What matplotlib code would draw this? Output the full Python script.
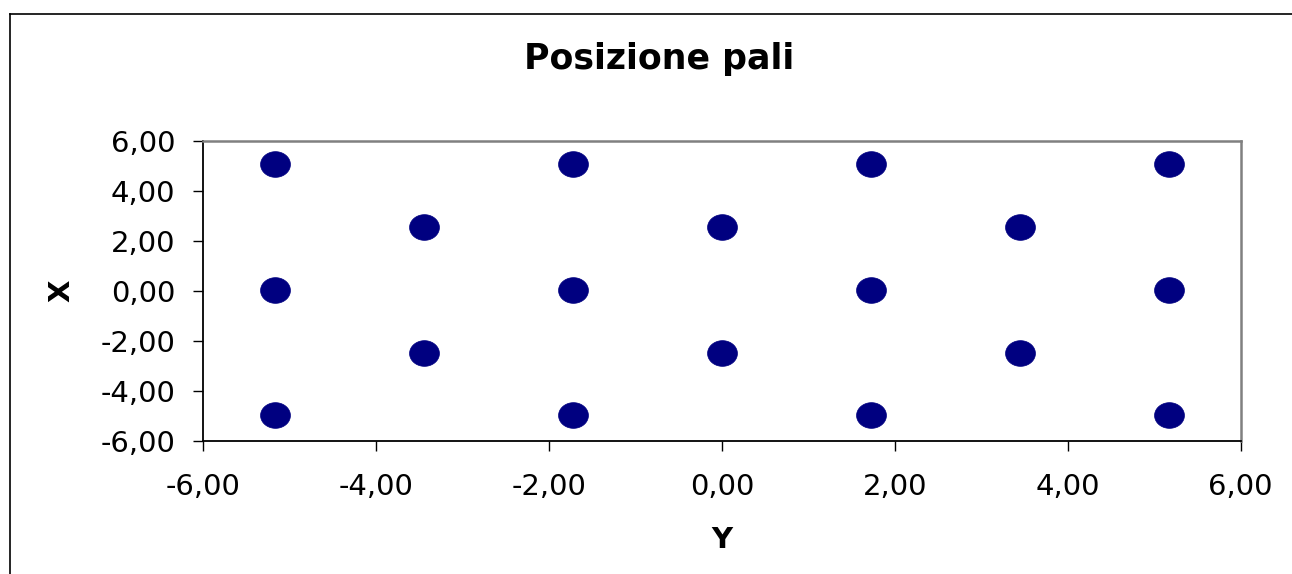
import matplotlib
matplotlib.use("Agg")
import matplotlib.pyplot as plt
from matplotlib.path import Path
from matplotlib.lines import Line2D
import matplotlib.ticker as mticker
import numpy as np

# Data (pile positions)
pile_y = [-5.17, -1.72, 1.72, 5.17,
          -3.45, 0.00, 3.45,
          -5.17, -1.72, 1.72, 5.17,
          -3.45, 0.00, 3.45,
          -5.17, -1.72, 1.72, 5.17]
pile_x = [5.06, 5.06, 5.06, 5.06,
          2.54, 2.54, 2.54,
          0.03, 0.03, 0.03, 0.03,
          -2.50, -2.50, -2.50,
          -4.96, -4.96, -4.96, -4.96]
ticks = [-6, -4, -2, 0, 2, 4, 6]
title = "Posizione pali"
xlabel = "Y"
ylabel = "X"

plt.rcParams['font.family'] = ['DejaVu Sans']

W, H, DPI = 1292, 574, 100
fig = plt.figure(figsize=(W / DPI, H / DPI), dpi=DPI)

# outer chart frame (clipped at right/bottom)
fig.add_artist(Line2D([10 / W, 1.2], [1 - 14.3 / H, 1 - 14.3 / H], transform=fig.transFigure,
                      color='black', lw=1.2))
fig.add_artist(Line2D([10 / W, 10 / W], [1 - 14.3 / H, -0.2], transform=fig.transFigure,
                      color='black', lw=1.2))

left, right, top, bottom = 203.3, 1240.5, 141.0, 440.7
ax = fig.add_axes([left / W, 1 - bottom / H, (right - left) / W, (bottom - top) / H])

# ellipse marker
t = np.linspace(0, 2 * np.pi, 64)
verts = np.column_stack([np.cos(t), 0.86 * np.sin(t)])
ell = Path(verts, closed=True)

ax.plot(pile_y, pile_x, linestyle='none', marker=ell, markersize=21.5,
        markerfacecolor='#000080', markeredgecolor='#000080', markeredgewidth=0.5)

ax.set_xlim(-6, 6)
ax.set_ylim(-6, 6)
ax.set_xticks(ticks)
ax.set_yticks(ticks)
fmt = mticker.FuncFormatter(lambda v, p: f"{v:.2f}".replace('.', ','))
ax.xaxis.set_major_formatter(fmt)
ax.yaxis.set_major_formatter(fmt)

for s in ['left', 'bottom']:
    ax.spines[s].set_color('black')
    ax.spines[s].set_linewidth(1.3)
for s in ['top', 'right']:
    ax.spines[s].set_color('#808080')
    ax.spines[s].set_linewidth(1.8)

ax.tick_params(axis='both', direction='out', length=7.2, width=1.0, color='black',
               labelsize=21, labelcolor='black')
ax.tick_params(axis='y', pad=13)
ax.tick_params(axis='x', pad=16)

ax.set_xlabel(xlabel, fontsize=21, fontweight='bold', labelpad=18)
ax.set_ylabel(ylabel, fontsize=21, fontweight='bold', labelpad=18)

fig.text(659 / W, 1 - 59 / H, title, fontsize=25, fontweight='bold',
         ha='center', va='center')

fig.savefig("out.png", dpi=DPI)
